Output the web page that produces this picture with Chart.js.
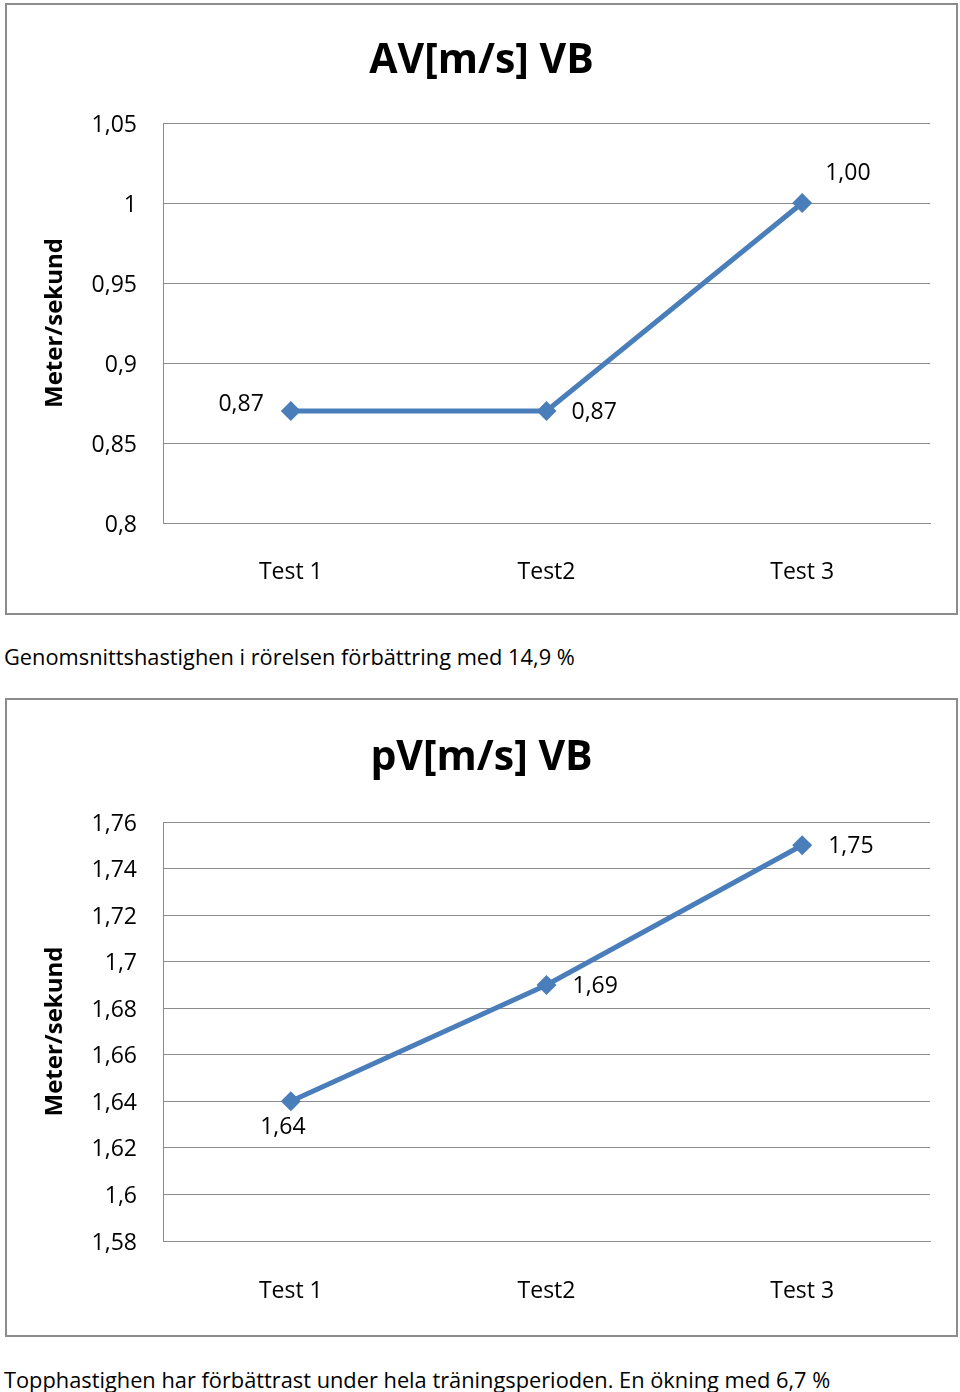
<!DOCTYPE html>
<html>
<head>
<meta charset="utf-8">
<script src="https://cdn.jsdelivr.net/npm/chart.js@4.4.1/dist/chart.umd.min.js"></script>
<style>
    body { margin: 0; background: #fff; width: 960px; height: 1392px; position: relative; overflow: hidden; }
    .box { position: absolute; left: 5px; width: 949px; border: 2px solid #8c8c8c; background: #fff; }
    #box1 { top: 3px; height: 608px; }
    #box2 { top: 698px; height: 635px; }
    .caption { position: absolute; left: 4px; font-family: "Open Sans", sans-serif; font-size: 21.8px; line-height: 30px; color: #000; white-space: nowrap; }
    canvas { display: block; }
</style>
</head>
<body>
<div class="box" id="box1"><canvas id="avChart" width="949" height="608"></canvas></div>
<div class="caption" style="top:642px">Genomsnittshastighen i rörelsen förbättring med 14,9 %</div>
<div class="box" id="box2"><canvas id="pvChart" width="949" height="635"></canvas></div>
<div class="caption" style="top:1365px">Topphastighen har förbättrast under hela träningsperioden. En ökning med 6,7 %</div>

<script>
// categories shared by both charts
const tests = ['Test 1', 'Test2', 'Test 3'];

// AV[m/s] VB
const avValues = [0.87, 0.87, 1.00];
const avTickValues = [0.8, 0.85, 0.9, 0.95, 1, 1.05];
const avTickLabels = ['0,8', '0,85', '0,9', '0,95', '1', '1,05'];

// pV[m/s] VB
const pvValues = [1.64, 1.69, 1.75];
const pvTickValues = [1.58, 1.6, 1.62, 1.64, 1.66, 1.68, 1.7, 1.72, 1.74, 1.76];
const pvTickLabels = ['1,58', '1,6', '1,62', '1,64', '1,66', '1,68', '1,7', '1,72', '1,74', '1,76'];

const lineBlue = '#4a7ebb';
const gridGray = '#8c8c8c';
const labelFont = "'Open Sans', sans-serif";
const labelSize = 23;

// draws the chart heading and the value labels next to each point
const textPlugin = {
    id: 'textPlugin',
    afterDraw(chart, args, opts) {
        const ctx = chart.ctx;
        ctx.save();
        ctx.fillStyle = '#000';
        ctx.textBaseline = 'middle';

        ctx.font = "bold 41px 'Open Sans', sans-serif";
        ctx.textAlign = 'center';
        ctx.fillText(opts.heading, chart.width / 2, opts.headingY);

        ctx.font = labelSize + 'px ' + labelFont;
        const meta = chart.getDatasetMeta(0);
        const values = chart.data.datasets[0].data;
        meta.data.forEach((pt, i) => {
            const p = opts.placements[i];
            ctx.textAlign = p.align;
            ctx.fillText(values[i].toFixed(2).replace('.', ','), pt.x + p.dx, pt.y + p.dy);
        });
        ctx.restore();
    }
};

function makeChart(id, values, tickValues, tickLabels, cfg) {
    return new Chart(document.getElementById(id), {
        type: 'line',
        data: {
            labels: tests,
            datasets: [{
                data: values,
                borderColor: lineBlue,
                backgroundColor: lineBlue,
                borderWidth: 5,
                tension: 0,
                pointStyle: 'rectRot',
                pointRadius: 10,
                pointBorderWidth: 0,
                pointBackgroundColor: lineBlue
            }]
        },
        options: {
            responsive: false,
            animation: false,
            layout: { padding: { top: cfg.top, right: 26, left: 0, bottom: 0 } },
            plugins: {
                legend: { display: false },
                tooltip: { enabled: false },
                textPlugin: { heading: cfg.heading, headingY: cfg.headingY, placements: cfg.placements }
            },
            scales: {
                x: {
                    offset: true,
                    grid: { display: false },
                    border: { display: true, color: gridGray, width: 1 },
                    ticks: { color: '#000', font: { family: labelFont, size: labelSize }, padding: cfg.xPad },
                    afterFit: s => { s.height = cfg.bottom; }
                },
                y: {
                    min: tickValues[0],
                    max: tickValues[tickValues.length - 1],
                    afterBuildTicks: s => { s.ticks = tickValues.map(v => ({ value: v })); },
                    grid: { color: gridGray, lineWidth: 1, drawTicks: false },
                    border: { display: true, color: gridGray, width: 1 },
                    ticks: {
                        color: '#000',
                        font: { family: labelFont, size: labelSize },
                        padding: 26,
                        labelOffset: 2,
                        callback: (v, i) => tickLabels[i]
                    },
                    title: {
                        display: true,
                        text: 'Meter/sekund',
                        color: '#000',
                        font: { family: "'Open Sans', sans-serif", weight: 'bold', size: 24 },
                        padding: { top: 34, bottom: 0 }
                    },
                    afterFit: s => { s.width = 156; }
                }
            }
        },
        plugins: [textPlugin]
    });
}

makeChart('avChart', avValues, avTickValues, avTickLabels, {
    heading: 'AV[m/s] VB', headingY: 56, top: 118, bottom: 90, xPad: 28,
    placements: [
        { align: 'right', dx: -27, dy: -7 },
        { align: 'left', dx: 25, dy: 1 },
        { align: 'left', dx: 23, dy: -30 }
    ]
});

makeChart('pvChart', pvValues, pvTickValues, pvTickLabels, {
    heading: 'pV[m/s] VB', headingY: 58, top: 122, bottom: 94, xPad: 29,
    placements: [
        { align: 'center', dx: -8, dy: 26 },
        { align: 'left', dx: 26, dy: 2 },
        { align: 'left', dx: 26, dy: 1 }
    ]
});
</script>
</body>
</html>
